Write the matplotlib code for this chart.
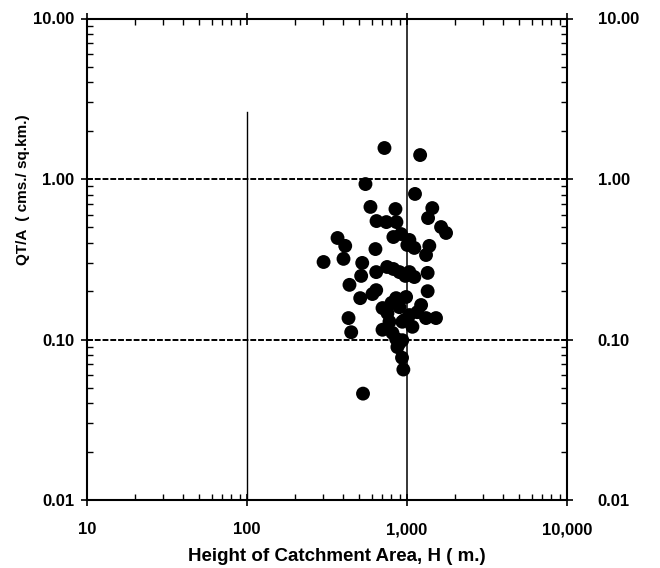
import matplotlib
matplotlib.use("Agg")
import matplotlib.pyplot as plt
import matplotlib.transforms as mtransforms
from matplotlib.ticker import FixedLocator, LogLocator, NullFormatter
import numpy as np

# Catchment height H (m) and specific discharge QT/A (cms./sq.km.)
height_m = [
    723, 1208, 550, 1122, 591, 847, 1439, 1354, 645, 743,
    859, 1633, 1754, 368, 411, 822, 918, 1035, 1005, 1111,
    1379, 1315, 635, 301, 401, 525, 751, 822, 897, 642,
    517, 977, 1111, 1346, 437, 642, 608, 1346, 510, 855,
    987, 703, 897, 1225, 755, 1035, 1161, 1315, 1518, 431,
    777, 935, 1081, 448, 703, 811, 855, 897, 935, 931,
    949, 531, 963, 871, 800, 1035,
]
qt_per_area = [
    1.56, 1.41, 0.93, 0.807, 0.670, 0.650, 0.659, 0.571, 0.547, 0.539,
    0.539, 0.502, 0.461, 0.429, 0.383, 0.435, 0.454, 0.417, 0.388, 0.372,
    0.383, 0.336, 0.366, 0.304, 0.318, 0.300, 0.283, 0.275, 0.263, 0.263,
    0.249, 0.249, 0.245, 0.260, 0.219, 0.203, 0.192, 0.200, 0.181, 0.181,
    0.184, 0.157, 0.159, 0.164, 0.146, 0.142, 0.148, 0.136, 0.136, 0.136,
    0.129, 0.129, 0.120, 0.111, 0.115, 0.110, 0.101, 0.095, 0.099, 0.077,
    0.065, 0.046, 0.132, 0.0897, 0.169, 0.263,
]

x_ticks = [10, 100, 1000, 10000]
x_tick_labels = ["10", "100", "1,000", "10,000"]
y_ticks = [0.01, 0.1, 1, 10]
y_tick_labels = ["0.01", "0.10", "1.00", "10.00"]

plt.rcParams["font.family"] = ["Liberation Sans", "DejaVu Sans"]
plt.rcParams["font.weight"] = "bold"

fig = plt.figure(figsize=(6.6, 5.68), dpi=100)
ax = fig.add_axes([87 / 660, 1 - 500 / 568, 480 / 660, 481.5 / 568])

ax.set_xscale("log")
ax.set_yscale("log")
ax.set_xlim(10, 10000)
ax.set_ylim(0.01, 10)

# reference lines at the decades
for yv in (0.1, 1.0):
    ax.axhline(yv, color="black", lw=1.4, ls=(0, (3, 1)), zorder=1)
ax.axvline(1000, color="black", lw=1.1, zorder=1)
ax.plot([100, 100], [0.01, 2.6], color="black", lw=1.0, zorder=1)

ax.scatter(height_m, qt_per_area, s=100, c="black", edgecolors="none", zorder=3)

for side in ax.spines.values():
    side.set_linewidth(1.5)

ax.xaxis.set_major_locator(FixedLocator(x_ticks))
ax.yaxis.set_major_locator(FixedLocator(y_ticks))
ax.xaxis.set_minor_locator(LogLocator(base=10, subs=np.arange(2, 10), numticks=20))
ax.yaxis.set_minor_locator(LogLocator(base=10, subs=np.arange(2, 10), numticks=20))
ax.xaxis.set_minor_formatter(NullFormatter())
ax.yaxis.set_minor_formatter(NullFormatter())
ax.set_xticklabels(x_tick_labels)
ax.set_yticklabels(y_tick_labels)

ax.tick_params(which="major", direction="inout", length=8, width=1.2,
               top=True, right=True, labelsize=12)
ax.tick_params(which="minor", direction="in", length=4, width=1.0,
               top=True, right=True)
ax.tick_params(axis="x", which="major", pad=12)
ax.tick_params(axis="y", which="major", pad=5, labelright=True)

# right-hand value labels sit further out from the frame
shift = mtransforms.ScaledTranslation(22 / 72, 0, fig.dpi_scale_trans)
for t in ax.yaxis.get_major_ticks():
    t.label2.set_transform(ax.get_yaxis_transform(which="tick2") + shift)

ax.set_xlabel("Height of Catchment Area, H ( m.)", fontsize=13.5, fontweight="bold")
ax.xaxis.set_label_coords(0.52, -0.099)
ax.set_ylabel("QT/A  ( cms./ sq.km.)", fontsize=11, fontweight="bold")
ax.yaxis.set_label_coords(-0.118, 0.645)

fig.savefig("out.png", dpi=100)
